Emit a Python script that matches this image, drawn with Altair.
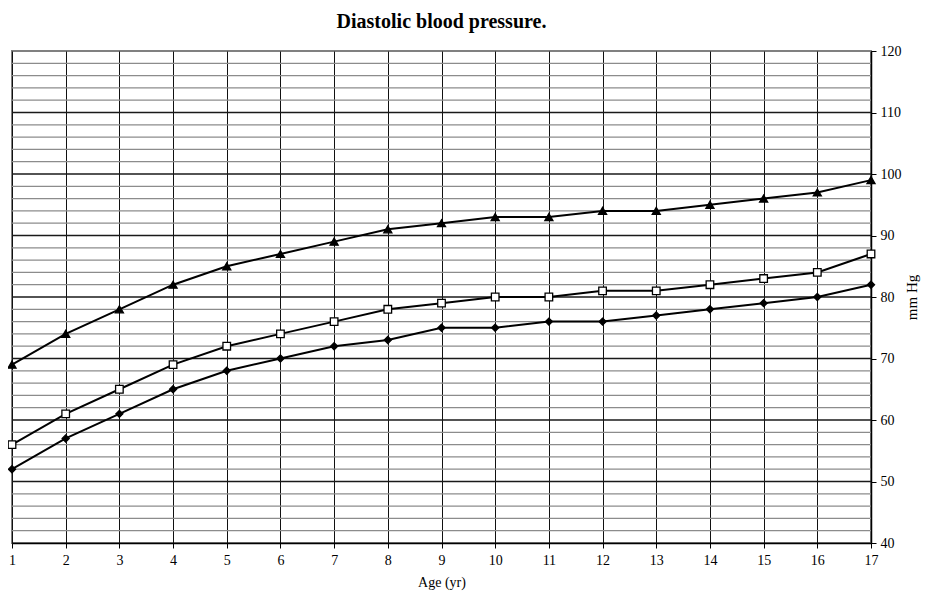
import altair as alt
import pandas as pd

ages = list(range(1, 18))
upper = [69, 74, 78, 82, 85, 87, 89, 91, 92, 93, 93, 94, 94, 95, 96, 97, 99]
middle = [56, 61, 65, 69, 72, 74, 76, 78, 79, 80, 80, 81, 81, 82, 83, 84, 87]
lower = [52, 57, 61, 65, 68, 70, 72, 73, 75, 75, 76, 76, 77, 78, 79, 80, 82]

y_labels = [40, 50, 60, 70, 80, 90, 100, 110, 120]
major_grid = [50, 60, 70, 80, 90, 100, 110]
minor_grid = [v for v in range(42, 120, 2) if v % 10 != 0]

rows = []
for name, vals in [("upper", upper), ("middle", middle), ("lower", lower)]:
    for a, v in zip(ages, vals):
        rows.append({"age": a, "value": v, "series": name})
df = pd.DataFrame(rows)

font = "Liberation Serif"
xs = alt.Scale(domain=[1, 17], nice=False, zero=False)
ys = alt.Scale(domain=[40, 120], nice=False, zero=False)

x_axis = alt.Axis(values=ages, grid=True, gridColor="#111111", gridWidth=1,
                  tickColor="black", tickSize=5, domainColor="black", domainWidth=1.5,
                  labelFont=font, labelFontSize=14, labelColor="black", labelPadding=5,
                  labelFlush=False,
                  titleFont=font, titleFontSize=14, titleFontWeight="normal",
                  titleColor="black", titlePadding=8)
y_axis = alt.Axis(orient="right", values=y_labels, grid=False,
                  tickColor="black", tickSize=5, domainColor="black", domainWidth=1.5,
                  labelFont=font, labelFontSize=14, labelColor="black", labelPadding=4,
                  labelFlush=False,
                  titleFont=font, titleFontSize=15, titleFontWeight="normal",
                  titleColor="black", titleAngle=270, titlePadding=18)

X = alt.X("age:Q", scale=xs, title="Age (yr)", axis=x_axis)
Y = alt.Y("value:Q", scale=ys, title="mm Hg", axis=y_axis)

minor = alt.Chart(pd.DataFrame({"value": minor_grid})).mark_rule(
    color="#8c8c8c", strokeWidth=1.2
).encode(y=Y)

major = alt.Chart(pd.DataFrame({"value": major_grid})).mark_rule(
    color="#1a1a1a", strokeWidth=1.5
).encode(y=Y)

lines = alt.Chart(df).mark_line(color="black", strokeWidth=2).encode(
    x=X, y=Y, detail="series:N",
)

points = alt.Chart(df).mark_point(filled=False, opacity=1, strokeWidth=1.3, stroke="black").encode(
    x=X, y=Y,
    shape=alt.Shape("series:N", scale=alt.Scale(domain=["upper", "middle", "lower"],
                                                range=["triangle-up", "square", "diamond"]),
                    legend=None),
    fill=alt.Fill("series:N", scale=alt.Scale(domain=["upper", "middle", "lower"],
                                              range=["black", "white", "black"]),
                  legend=None),
    size=alt.Size("series:N", scale=alt.Scale(domain=["upper", "middle", "lower"],
                                              range=[65, 50, 50]), legend=None),
)

chart = alt.layer(minor, major, lines, points).properties(
    width=859, height=492,
    title=alt.TitleParams("Diastolic blood pressure.", font=font, fontSize=20,
                          fontWeight="bold", color="black", anchor="middle", offset=12),
    autosize=alt.AutoSizeParams(type="none"),
    padding={"left": 4, "top": 43, "right": 51, "bottom": 50},
).configure_view(stroke="#808080", strokeWidth=2)

chart.save("out.html", embed_options={"renderer": "svg", "actions": False})
